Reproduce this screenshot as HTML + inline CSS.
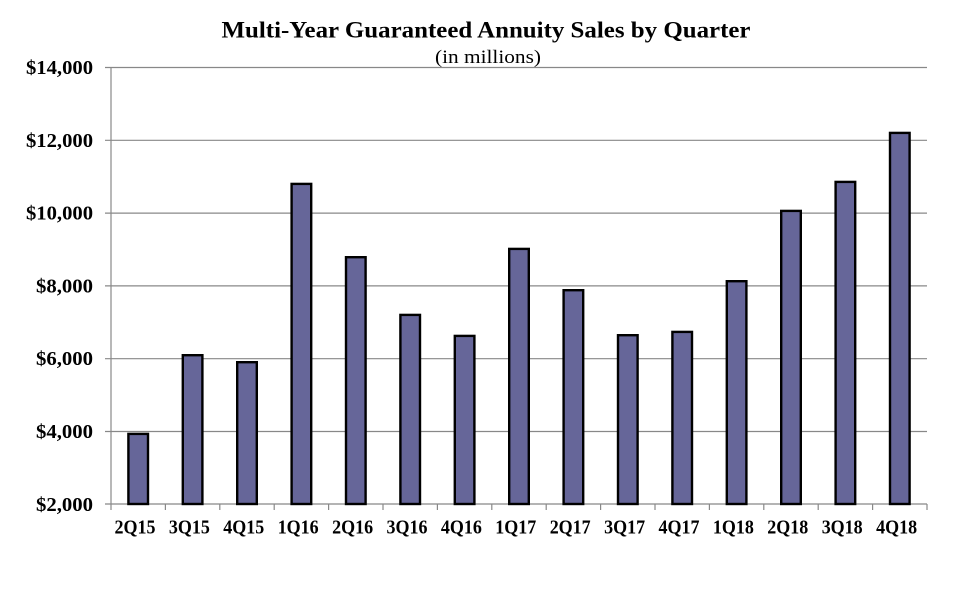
<!DOCTYPE html>
<html>
<head>
<meta charset="utf-8">
<style>
  html, body { margin: 0; padding: 0; background: #ffffff; }
  svg { display: block; }
  text { font-family: "Liberation Serif", "Times New Roman", serif; fill: #000; }
</style>
</head>
<body>
<svg width="972" height="594" viewBox="0 0 972 594" xmlns="http://www.w3.org/2000/svg">
  <rect x="0" y="0" width="972" height="594" fill="#ffffff"/>

  <!-- Title -->
  <text x="486" y="37.7" font-size="23" font-weight="bold" text-anchor="middle" textLength="529" lengthAdjust="spacingAndGlyphs">Multi-Year Guaranteed Annuity Sales by Quarter</text>
  <text x="488" y="63" font-size="19" text-anchor="middle" textLength="106" lengthAdjust="spacingAndGlyphs">(in millions)</text>

  <!-- Gridlines -->
  <g stroke="#888888" stroke-width="1.2">
    <line x1="105" y1="67.5" x2="927" y2="67.5"/>
    <line x1="105" y1="140.3" x2="927" y2="140.3"/>
    <line x1="105" y1="213.1" x2="927" y2="213.1"/>
    <line x1="105" y1="285.9" x2="927" y2="285.9"/>
    <line x1="105" y1="358.7" x2="927" y2="358.7"/>
    <line x1="105" y1="431.5" x2="927" y2="431.5"/>
    <line x1="105" y1="504" x2="927" y2="504"/>
    <!-- left axis -->
    <line x1="111" y1="67.5" x2="111" y2="504"/>
    <!-- bottom ticks -->
    <line x1="111" y1="504" x2="111" y2="510"/>
    <line x1="165.4" y1="504" x2="165.4" y2="510"/>
    <line x1="219.8" y1="504" x2="219.8" y2="510"/>
    <line x1="274.2" y1="504" x2="274.2" y2="510"/>
    <line x1="328.6" y1="504" x2="328.6" y2="510"/>
    <line x1="383" y1="504" x2="383" y2="510"/>
    <line x1="437.4" y1="504" x2="437.4" y2="510"/>
    <line x1="491.8" y1="504" x2="491.8" y2="510"/>
    <line x1="546.2" y1="504" x2="546.2" y2="510"/>
    <line x1="600.6" y1="504" x2="600.6" y2="510"/>
    <line x1="655" y1="504" x2="655" y2="510"/>
    <line x1="709.4" y1="504" x2="709.4" y2="510"/>
    <line x1="763.8" y1="504" x2="763.8" y2="510"/>
    <line x1="818.2" y1="504" x2="818.2" y2="510"/>
    <line x1="872.6" y1="504" x2="872.6" y2="510"/>
    <line x1="927" y1="504" x2="927" y2="510"/>
  </g>

  <!-- Y labels -->
  <g font-size="20" font-weight="bold" text-anchor="end">
    <text x="93" y="74" textLength="67" lengthAdjust="spacingAndGlyphs">$14,000</text>
    <text x="93" y="146.8" textLength="67" lengthAdjust="spacingAndGlyphs">$12,000</text>
    <text x="93" y="219.6" textLength="67" lengthAdjust="spacingAndGlyphs">$10,000</text>
    <text x="93" y="292.4" textLength="57" lengthAdjust="spacingAndGlyphs">$8,000</text>
    <text x="93" y="365.2" textLength="57" lengthAdjust="spacingAndGlyphs">$6,000</text>
    <text x="93" y="438" textLength="57" lengthAdjust="spacingAndGlyphs">$4,000</text>
    <text x="93" y="510.8" textLength="57" lengthAdjust="spacingAndGlyphs">$2,000</text>
  </g>

  <!-- Bars -->
  <g fill="#666699" stroke="#000000" stroke-width="2.4">
    <rect x="128.4" y="433.9" width="19.6" height="70.1"/>
    <rect x="182.8" y="355.2" width="19.6" height="148.8"/>
    <rect x="237.2" y="362.2" width="19.6" height="141.8"/>
    <rect x="291.6" y="183.9" width="19.6" height="320.1"/>
    <rect x="346" y="257.2" width="19.6" height="246.8"/>
    <rect x="400.4" y="314.9" width="19.6" height="189.1"/>
    <rect x="454.8" y="335.9" width="19.6" height="168.1"/>
    <rect x="509.2" y="248.9" width="19.6" height="255.1"/>
    <rect x="563.6" y="290.2" width="19.6" height="213.8"/>
    <rect x="618" y="335.2" width="19.6" height="168.8"/>
    <rect x="672.4" y="331.9" width="19.6" height="172.1"/>
    <rect x="726.8" y="281.2" width="19.6" height="222.8"/>
    <rect x="781.2" y="210.9" width="19.6" height="293.1"/>
    <rect x="835.6" y="181.9" width="19.6" height="322.1"/>
    <rect x="890" y="132.9" width="19.6" height="371.1"/>
  </g>

  <!-- X labels -->
  <g font-size="19.5" font-weight="bold" text-anchor="middle">
    <text x="135" y="533.5" textLength="41" lengthAdjust="spacingAndGlyphs">2Q15</text>
    <text x="189.4" y="533.5" textLength="41" lengthAdjust="spacingAndGlyphs">3Q15</text>
    <text x="243.8" y="533.5" textLength="41" lengthAdjust="spacingAndGlyphs">4Q15</text>
    <text x="298.2" y="533.5" textLength="41" lengthAdjust="spacingAndGlyphs">1Q16</text>
    <text x="352.6" y="533.5" textLength="41" lengthAdjust="spacingAndGlyphs">2Q16</text>
    <text x="407" y="533.5" textLength="41" lengthAdjust="spacingAndGlyphs">3Q16</text>
    <text x="461.4" y="533.5" textLength="41" lengthAdjust="spacingAndGlyphs">4Q16</text>
    <text x="515.8" y="533.5" textLength="41" lengthAdjust="spacingAndGlyphs">1Q17</text>
    <text x="570.2" y="533.5" textLength="41" lengthAdjust="spacingAndGlyphs">2Q17</text>
    <text x="624.6" y="533.5" textLength="41" lengthAdjust="spacingAndGlyphs">3Q17</text>
    <text x="679" y="533.5" textLength="41" lengthAdjust="spacingAndGlyphs">4Q17</text>
    <text x="733.4" y="533.5" textLength="41" lengthAdjust="spacingAndGlyphs">1Q18</text>
    <text x="787.8" y="533.5" textLength="41" lengthAdjust="spacingAndGlyphs">2Q18</text>
    <text x="842.2" y="533.5" textLength="41" lengthAdjust="spacingAndGlyphs">3Q18</text>
    <text x="896.6" y="533.5" textLength="41" lengthAdjust="spacingAndGlyphs">4Q18</text>
  </g>
</svg>
</body>
</html>
